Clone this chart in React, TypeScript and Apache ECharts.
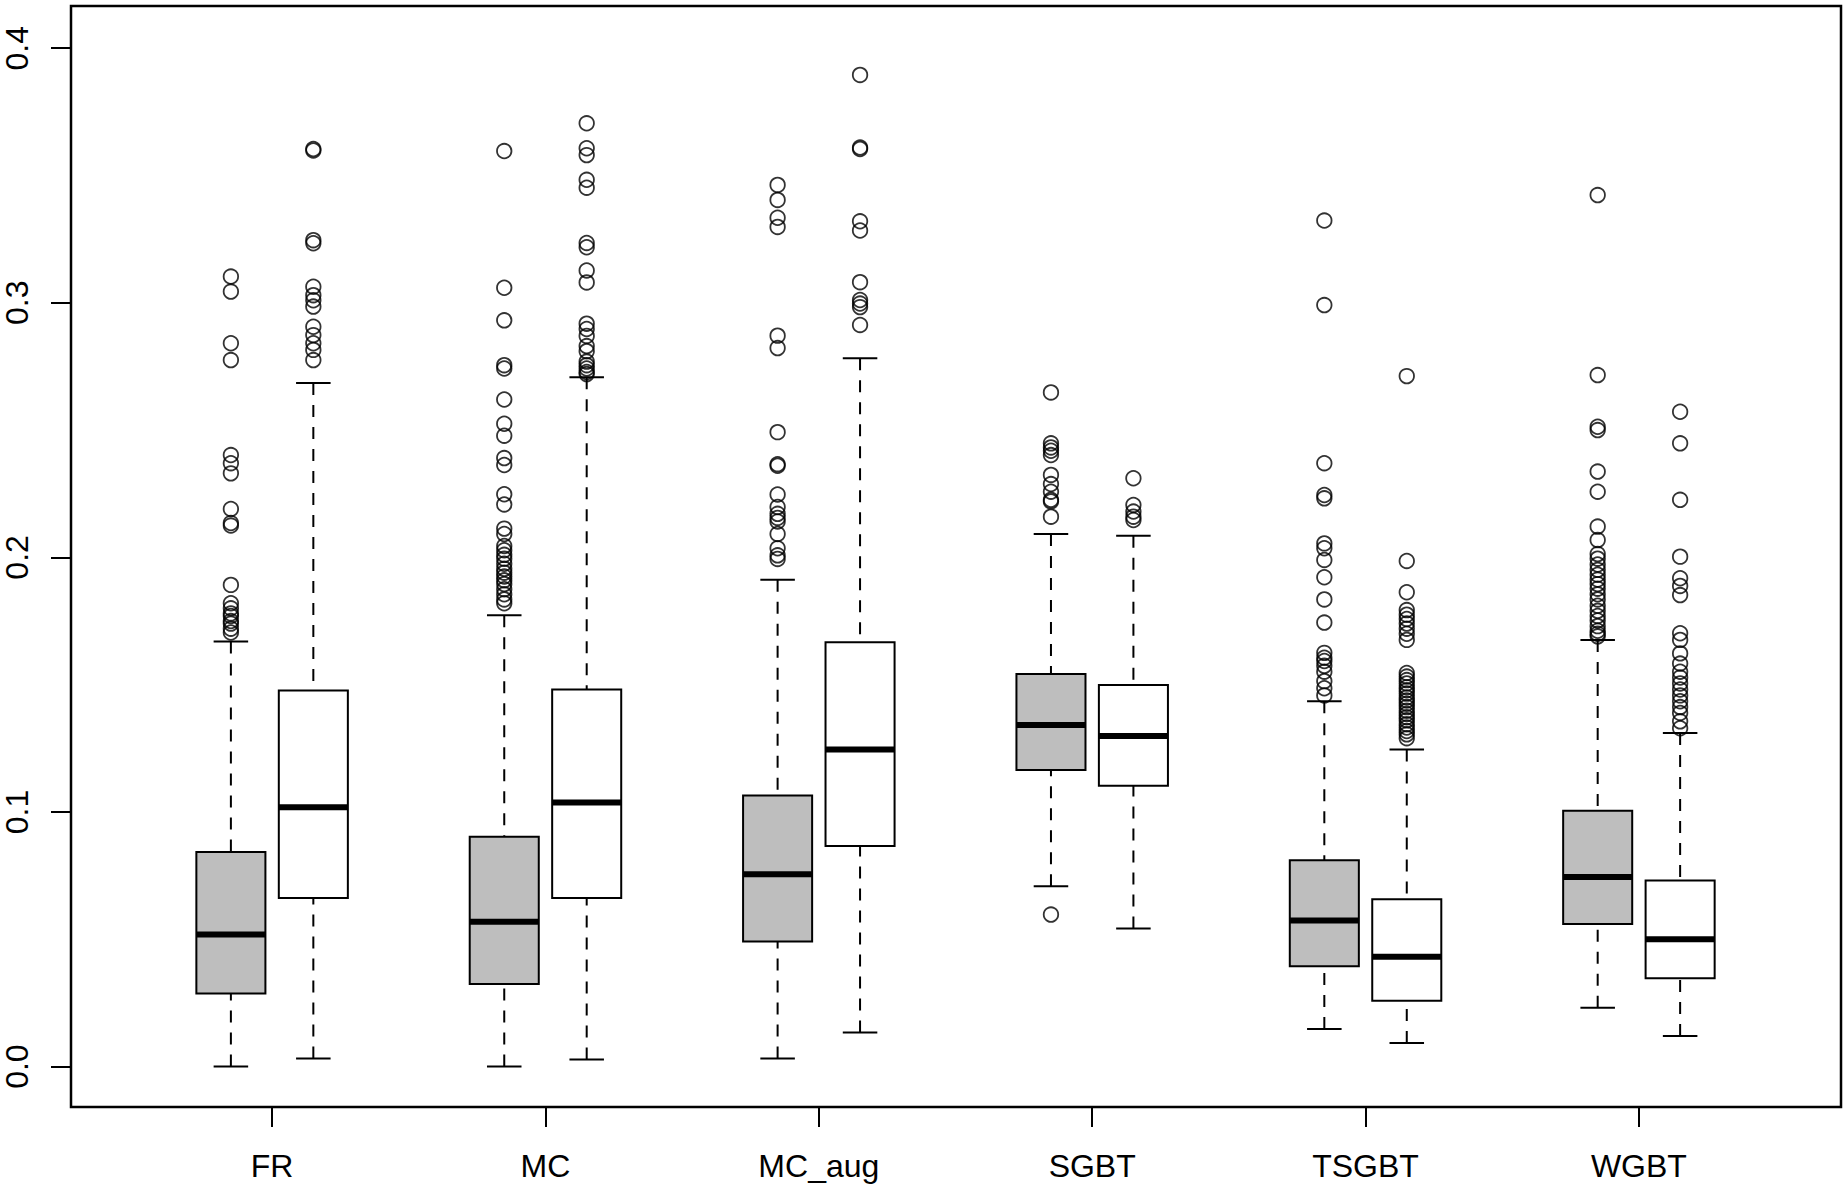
import React, { useEffect, useRef } from "react";
import * as echarts from "echarts";

const categories = ["FR", "MC", "MC_aug", "SGBT", "TSGBT", "WGBT"];
const yTicks = [0, 0.1, 0.2, 0.3, 0.4];

// [lower whisker, Q1, median, Q3, upper whisker]
const grayStats = [
  [0.0, 0.0287, 0.0519, 0.0843, 0.167],
  [0.0, 0.0324, 0.0569, 0.0903, 0.1773],
  [0.0032, 0.0491, 0.0755, 0.1065, 0.1912],
  [0.0708, 0.1165, 0.1342, 0.1542, 0.2092],
  [0.0148, 0.0394, 0.0574, 0.081, 0.1435],
  [0.0231, 0.056, 0.0745, 0.1005, 0.1676],
];
const whiteStats = [
  [0.0032, 0.0662, 0.1019, 0.1477, 0.2685],
  [0.0028, 0.0662, 0.1037, 0.1481, 0.2708],
  [0.0134, 0.0866, 0.1245, 0.1667, 0.2782],
  [0.0542, 0.1103, 0.1298, 0.1499, 0.2085],
  [0.0093, 0.0259, 0.0431, 0.0657, 0.1245],
  [0.012, 0.0347, 0.05, 0.0731, 0.131],
];

const grayOutliers = [
  [0.3103, 0.3044, 0.2841, 0.2775, 0.2402, 0.237, 0.233, 0.219, 0.2135, 0.2125, 0.1892, 0.182, 0.18, 0.178, 0.177, 0.175, 0.174, 0.172, 0.1705],
  [0.3596, 0.3059, 0.2931, 0.2755, 0.2742, 0.262, 0.2525, 0.2478, 0.239, 0.2363, 0.2248, 0.2208, 0.2113, 0.2092, 0.2045, 0.2028, 0.201, 0.1995, 0.1975, 0.1955, 0.194, 0.1925, 0.191, 0.1895, 0.1875, 0.1855, 0.1835, 0.182],
  [0.3463, 0.3404, 0.3334, 0.3298, 0.2871, 0.2822, 0.2492, 0.2366, 0.236, 0.2247, 0.2198, 0.2171, 0.2155, 0.2141, 0.2092, 0.2036, 0.2008, 0.1994],
  [0.2648, 0.2448, 0.2432, 0.2419, 0.2402, 0.2324, 0.2288, 0.2258, 0.2226, 0.222, 0.216, 0.0597],
  [0.3323, 0.2991, 0.237, 0.2245, 0.2232, 0.2055, 0.2036, 0.199, 0.1922, 0.1835, 0.1744, 0.1625, 0.1606, 0.1593, 0.1574, 0.1551, 0.1514, 0.1486, 0.1458],
  [0.3423, 0.2716, 0.2513, 0.25, 0.2337, 0.2258, 0.2121, 0.2068, 0.2013, 0.1995, 0.1972, 0.1951, 0.1932, 0.1913, 0.1895, 0.1877, 0.1855, 0.1835, 0.181, 0.179, 0.177, 0.1752, 0.173, 0.1712, 0.17, 0.169],
];
const whiteOutliers = [
  [0.3604, 0.3598, 0.3246, 0.3234, 0.3063, 0.303, 0.301, 0.2985, 0.2906, 0.2873, 0.2841, 0.2815, 0.2775],
  [0.3705, 0.3607, 0.358, 0.3483, 0.3452, 0.3235, 0.3218, 0.3127, 0.308, 0.2918, 0.2897, 0.287, 0.283, 0.281, 0.2769, 0.2755, 0.2742, 0.2728, 0.272],
  [0.3895, 0.361, 0.3604, 0.332, 0.3284, 0.3081, 0.3011, 0.2997, 0.2983, 0.2913],
  [0.2311, 0.2206, 0.218, 0.216, 0.2147],
  [0.2712, 0.1986, 0.1863, 0.1793, 0.1775, 0.1758, 0.174, 0.172, 0.17, 0.1676, 0.1546, 0.1532, 0.1518, 0.1505, 0.149, 0.1478, 0.1465, 0.145, 0.1438, 0.1425, 0.1412, 0.1398, 0.1385, 0.1372, 0.136, 0.1345, 0.1332, 0.1318, 0.1305, 0.129],
  [0.2572, 0.2448, 0.2226, 0.2003, 0.1918, 0.1888, 0.1852, 0.1702, 0.1676, 0.1623, 0.1583, 0.1551, 0.1528, 0.1505, 0.1481, 0.1458, 0.1435, 0.1412, 0.1389, 0.1356, 0.1329],
];

const OFFSET = 0.1508;
const BOX_HALF = 0.1263;
const FONT = "'Liberation Sans', Arial, Helvetica, sans-serif";

export default function App() {
  const ref = useRef<HTMLDivElement>(null);
  useEffect(() => {
    document.body.style.margin = "0";
    if (!ref.current) return;
    const chart = echarts.init(ref.current, undefined, { renderer: "svg" });

    const boxData: number[][] = [];
    const outData: number[][] = [];
    categories.forEach((_, i) => {
      const xg = i + 1 - OFFSET;
      const xw = i + 1 + OFFSET;
      boxData.push([xg, ...grayStats[i], 1]);
      boxData.push([xw, ...whiteStats[i], 0]);
      grayOutliers[i].forEach((v) => outData.push([xg, v]));
      whiteOutliers[i].forEach((v) => outData.push([xw, v]));
    });

    const tickCustom = [1, 2, 3, 4, 5, 6];

    chart.setOption({
      animation: false,
      backgroundColor: "#ffffff",
      grid: {
        left: 71,
        top: 6,
        width: 1770,
        height: 1101,
        show: true,
        borderColor: "#000",
        borderWidth: 2.5,
        backgroundColor: "transparent",
      },
      xAxis: {
        type: "value",
        min: 0.2643,
        max: 6.7393,
        axisLine: { show: false, onZero: false },
        splitLine: { show: false },
        axisTick: {
          show: true,
          customValues: tickCustom,
          length: 20,
          lineStyle: { color: "#000", width: 2 },
        },
        axisLabel: {
          customValues: tickCustom,
          margin: 43,
          color: "#000",
          fontSize: 32,
          fontFamily: FONT,
          formatter: (v: number) => categories[Math.round(v) - 1] ?? "",
        },
      },
      yAxis: {
        type: "value",
        min: -0.01587,
        max: 0.41657,
        axisLine: { show: false, onZero: false },
        splitLine: { show: false },
        axisTick: {
          show: true,
          customValues: yTicks,
          length: 20,
          lineStyle: { color: "#000", width: 2 },
        },
        axisLabel: {
          customValues: yTicks,
          rotate: 90,
          margin: 38,
          color: "#000",
          fontSize: 32,
          fontFamily: FONT,
          formatter: (v: number) => v.toFixed(1),
        },
      },
      series: [
        {
          type: "custom",
          data: boxData,
          clip: false,
          renderItem: (params: any, api: any) => {
            const x = api.value(0);
            const lo = api.coord([x, api.value(1)]);
            const q1 = api.coord([x, api.value(2)]);
            const med = api.coord([x, api.value(3)]);
            const q3 = api.coord([x, api.value(4)]);
            const hi = api.coord([x, api.value(5)]);
            const fill = api.value(6) === 1 ? "#BEBEBE" : "#FFFFFF";
            const half = api.size([BOX_HALF, 0])[0];
            const cap = half / 2;
            const cx = lo[0];
            const dashStyle = { stroke: "#000", lineWidth: 2, lineDash: [12, 10], fill: null };
            const solid = { stroke: "#000", lineWidth: 2, fill: null };
            return {
              type: "group",
              children: [
                { type: "line", shape: { x1: cx, y1: hi[1], x2: cx, y2: q3[1] }, style: dashStyle },
                { type: "line", shape: { x1: cx, y1: lo[1], x2: cx, y2: q1[1] }, style: dashStyle },
                { type: "line", shape: { x1: cx - cap, y1: hi[1], x2: cx + cap, y2: hi[1] }, style: solid },
                { type: "line", shape: { x1: cx - cap, y1: lo[1], x2: cx + cap, y2: lo[1] }, style: solid },
                {
                  type: "rect",
                  shape: { x: cx - half, y: q3[1], width: half * 2, height: q1[1] - q3[1] },
                  style: { fill, stroke: "#000", lineWidth: 2 },
                },
                {
                  type: "line",
                  shape: { x1: cx - half, y1: med[1], x2: cx + half, y2: med[1] },
                  style: { stroke: "#000", lineWidth: 6, fill: null },
                },
              ],
            };
          },
        },
        {
          type: "scatter",
          data: outData,
          symbol: "circle",
          symbolSize: 14.5,
          itemStyle: { color: "rgba(0,0,0,0)", borderColor: "#000", borderWidth: 1.8 },
          emphasis: { disabled: true },
        },
      ],
    });
    return () => chart.dispose();
  }, []);
  return <div ref={ref} style={{ width: 1848, height: 1188 }} />;
}
